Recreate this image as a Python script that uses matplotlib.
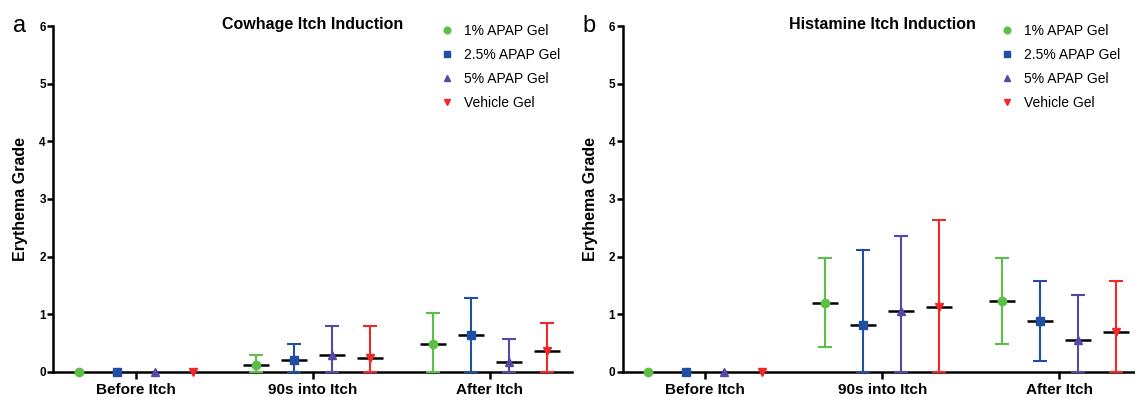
"""
Erythema grade after APAP gel, cowhage vs histamine itch induction
Output: out.png
"""

import matplotlib.pyplot as plt
import matplotlib
import numpy as np

matplotlib.rcParams['font.family'] = ['Liberation Sans', 'DejaVu Sans']

# data
groups = ['Before Itch', '90s into Itch', 'After Itch']
series = ['1% APAP Gel', '2.5% APAP Gel', '5% APAP Gel', 'Vehicle Gel']

cowhage_mean = [[0, 0.12, 0.49],
                [0, 0.20, 0.64],
                [0, 0.30, 0.17],
                [0, 0.24, 0.36]]
cowhage_upper = [[0, 0.30, 1.02],
                 [0, 0.48, 1.28],
                 [0, 0.79, 0.57],
                 [0, 0.80, 0.85]]
cowhage_lower = [[0, 0, 0],
                 [0, 0, 0],
                 [0, 0, 0],
                 [0, 0, 0]]

histamine_mean = [[0, 1.20, 1.23],
                  [0, 0.82, 0.88],
                  [0, 1.05, 0.55],
                  [0, 1.12, 0.69]]
histamine_upper = [[0, 1.98, 1.98],
                   [0, 2.12, 1.57],
                   [0, 2.36, 1.33],
                   [0, 2.64, 1.57]]
histamine_lower = [[0, 0.43, 0.48],
                   [0, 0, 0.19],
                   [0, 0, 0],
                   [0, 0, 0]]

COLORS = ['#5CBF47', '#1F4FA3', '#5648A6', '#F02828']
MARKERS = ['o', 's', '^', 'v']
OFFSETS = [-0.322, -0.107, 0.107, 0.322]


def draw_panel(ax, title, letter, mean, lower, upper, leg_x):
    x = np.arange(len(groups))
    for i in range(len(series)):
        xs = x + OFFSETS[i]
        m = np.array(mean[i])
        lo = np.array(lower[i])
        hi = np.array(upper[i])
        has_err = hi > lo
        ax.errorbar(xs[has_err], m[has_err],
                    yerr=[m[has_err] - lo[has_err], hi[has_err] - m[has_err]],
                    fmt='none', ecolor=COLORS[i], elinewidth=1.5, capsize=5,
                    capthick=1.5, zorder=3, clip_on=False)
        ax.hlines(m[has_err], xs[has_err] - 0.073, xs[has_err] + 0.073,
                  color='black', linewidth=1.8, zorder=4)
        ax.plot(xs, m, linestyle='none', marker=MARKERS[i], color=COLORS[i],
                markersize=6, zorder=5, clip_on=False, label=series[i])

    ax.set_xlim(-0.464, 2.464)
    ax.set_ylim(0, 6)
    ax.set_xticks(x)
    ax.set_xticklabels(groups, fontsize=11, fontweight='bold')
    ax.set_yticks(range(7))
    ax.set_yticklabels([str(v) for v in range(7)], fontsize=8.5, fontweight='bold')
    ax.tick_params(axis='x', length=5, width=1.8, pad=3)
    ax.tick_params(axis='y', length=4, width=1.8, pad=1.5)
    for side in ['top', 'right']:
        ax.spines[side].set_visible(False)
    for side in ['left', 'bottom']:
        ax.spines[side].set_linewidth(1.8)
    ax.set_ylabel('Erythema Grade', fontsize=11.5, fontweight='bold', labelpad=8)
    ax.set_title(title, fontsize=11.5, fontweight='bold', pad=-2, y=1.0)

    ax.legend(loc='upper left', bbox_to_anchor=(leg_x, 1.006), frameon=False,
              fontsize=10, handlelength=1.0, handletextpad=0.75,
              labelspacing=0.72, borderpad=0, borderaxespad=0, markerscale=0.8)
    ax.text(-0.066, 1.0, letter, transform=ax.transAxes, fontsize=17,
            ha='center', va='center')


fig = plt.figure(figsize=(11.35, 3.97), dpi=100)
ax_a = fig.add_axes([0.0471, 0.063, 0.4568, 0.8715])
ax_b = fig.add_axes([0.5489, 0.063, 0.4568, 0.8715])

draw_panel(ax_a, 'Cowhage Itch Induction', 'a', cowhage_mean, cowhage_lower,
           cowhage_upper, 0.745)
draw_panel(ax_b, 'Histamine Itch Induction', 'b', histamine_mean, histamine_lower,
           histamine_upper, 0.727)

plt.savefig('out.png', dpi=100, facecolor='white')
plt.close()
